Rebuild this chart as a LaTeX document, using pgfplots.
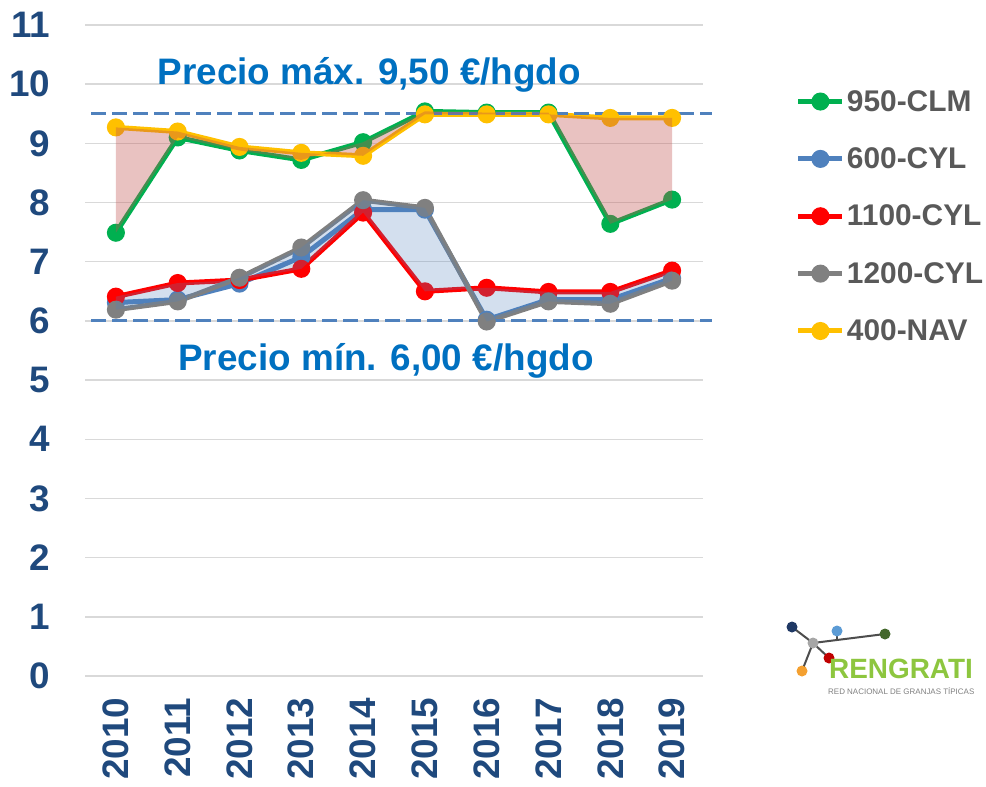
\documentclass[border=0pt]{standalone}
\usepackage{fontspec}
\setmainfont{Liberation Sans}
\usepackage{pgfplots}
\pgfplotsset{compat=1.18}
\usepgfplotslibrary{fillbetween}
\definecolor{cgreen}{HTML}{00B050}
\definecolor{cblue}{HTML}{4F81BD}
\definecolor{cred}{HTML}{FF0000}
\definecolor{cgray}{HTML}{808080}
\definecolor{cyellow}{HTML}{FFC000}
\definecolor{tickblue}{HTML}{1F497D}
\definecolor{titleblue}{HTML}{0070C0}
\definecolor{gridgray}{HTML}{D9D9D9}
\definecolor{legendgray}{HTML}{595959}
\definecolor{dashblue}{HTML}{4F81BD}
\definecolor{redfill}{HTML}{C0504D}
\definecolor{bluefill}{HTML}{4F81BD}
\definecolor{logogreen}{HTML}{8DC63F}
\definecolor{logodblue}{HTML}{1F3864}
\definecolor{logolblue}{HTML}{5B9BD5}
\definecolor{logodgreen}{HTML}{43682B}
\definecolor{logored}{HTML}{C00000}
\definecolor{logoorange}{HTML}{F4A030}
\definecolor{logogray}{HTML}{A6A6A6}
\definecolor{logoline}{HTML}{4D4D4D}

\pgfplotstableread{
x green blue red gray yellow
0 7.49 6.31 6.41 6.19 9.27
1 9.10 6.36 6.64 6.33 9.20
2 8.88 6.63 6.69 6.73 8.94
3 8.72 7.08 6.88 7.24 8.84
4 9.02 7.88 7.83 8.04 8.79
5 9.54 7.88 6.50 7.91 9.49
6 9.52 6.02 6.56 5.99 9.49
7 9.52 6.36 6.49 6.33 9.49
8 7.64 6.36 6.49 6.29 9.43
9 8.05 6.72 6.85 6.68 9.43
}\datatable

\begin{document}
\begin{tikzpicture}
\begin{axis}[
  at={(85bp,-676bp)}, anchor=south west,
  scale only axis, width=618bp, height=651bp,
  xmin=-0.5, xmax=9.5, ymin=0, ymax=11,
  ytick={0,1,2,3,4,5,6,7,8,9,10,11},
  xtick={0,1,2,3,4,5,6,7,8,9},
  xticklabels={2010,2011,2012,2013,2014,2015,2016,2017,2018,2019},
  ymajorgrids, grid style={line width=1.5bp, color=gridgray},
  axis line style={draw=none}, major tick length=0pt,
  tick label style={font=\fontsize{37}{40}\selectfont\bfseries, text=tickblue},
  /pgf/number format/assume math mode=true,
  xticklabel style={rotate=90, anchor=east, xshift=-18bp},
  yticklabel style={anchor=east, xshift=-31bp},
  clip=false, set layers,
  legend style={at={(axis description cs:1.15,0.903)}, anchor=north west,
    draw=none, fill=none, font=\fontsize{30}{34}\selectfont\bfseries,
    text=legendgray, row sep=31bp, inner sep=0pt,
    nodes={inner sep=2bp}},
  legend cell align=left,
  legend image code/.code={
    \draw[mark repeat=2,mark phase=2,#1] plot coordinates {(0bp,0bp) (22bp,0bp) (44bp,0bp)};
  },
  every axis plot/.append style={line width=5bp, mark=*, mark size=6.5bp, mark options={solid}},
]
\addplot[color=cgreen, name path=G] table[x=x,y=green]{\datatable};
\addlegendentry{950-CLM}
\addplot[color=cblue] table[x=x,y=blue]{\datatable};
\addlegendentry{600-CYL}
\addplot[color=cred, name path=R] table[x=x,y=red]{\datatable};
\addlegendentry{1100-CYL}
\addplot[color=cgray, name path=Y] table[x=x,y=gray]{\datatable};
\addlegendentry{1200-CYL}
\addplot[color=cyellow, name path=N] table[x=x,y=yellow]{\datatable};
\addlegendentry{400-NAV}

\addplot[draw=none, mark=none, fill=redfill, fill opacity=0.35, forget plot]
  fill between[of=G and N, on layer=axis foreground];
\addplot[draw=none, mark=none, fill=bluefill, fill opacity=0.25, forget plot]
  fill between[of=R and Y, on layer=axis foreground];

\addplot[dashblue, line width=3bp, mark=none, dash pattern=on 15bp off 6bp, forget plot]
  coordinates {(-0.40,9.5) (9.65,9.5)};
\addplot[dashblue, line width=3bp, mark=none, dash pattern=on 15bp off 6bp, forget plot]
  coordinates {(-0.40,6.0) (9.65,6.0)};

\node[anchor=base, font=\fontsize{37}{40}\selectfont\bfseries, text=titleblue]
  at (axis cs:4.1,9.99) {Precio máx. 9,50 €/hgdo};
\node[anchor=base, font=\fontsize{37}{40}\selectfont\bfseries, text=titleblue]
  at (axis cs:4.37,5.17) {Precio mín. 6,00 €/hgdo};
\end{axis}

% logo
\begin{scope}[x=1bp,y=1bp]
\draw[logoline, line width=2bp] (792,-627) -- (813,-643);
\draw[logoline, line width=2bp] (813,-643) -- (885,-634);
\draw[logoline, line width=2bp] (837,-631) -- (837,-640);
\draw[logoline, line width=2bp] (813,-643) -- (829,-658);
\draw[logoline, line width=2bp] (813,-643) -- (802,-671);
\fill[logodblue] (792,-627) circle (5.5);
\fill[logogray] (813,-643) circle (5.5);
\fill[logolblue] (837,-631) circle (5.5);
\fill[logodgreen] (885,-634) circle (5.5);
\fill[logored] (829,-658) circle (5.5);
\fill[logoorange] (802,-671) circle (5.5);
\node[anchor=base west, inner sep=0pt, text=logogreen, font=\fontsize{28}{30}\selectfont\bfseries] at (829,-678) {RENGRATI};
\node[anchor=base west, inner sep=0pt, text=cgray, font=\fontsize{8}{9}\selectfont] at (828,-694) {RED NACIONAL DE GRANJAS TÍPICAS};
\pgfresetboundingbox
\path[use as bounding box] (0,0) rectangle (986,-787);
\end{scope}
\end{tikzpicture}
\end{document}
